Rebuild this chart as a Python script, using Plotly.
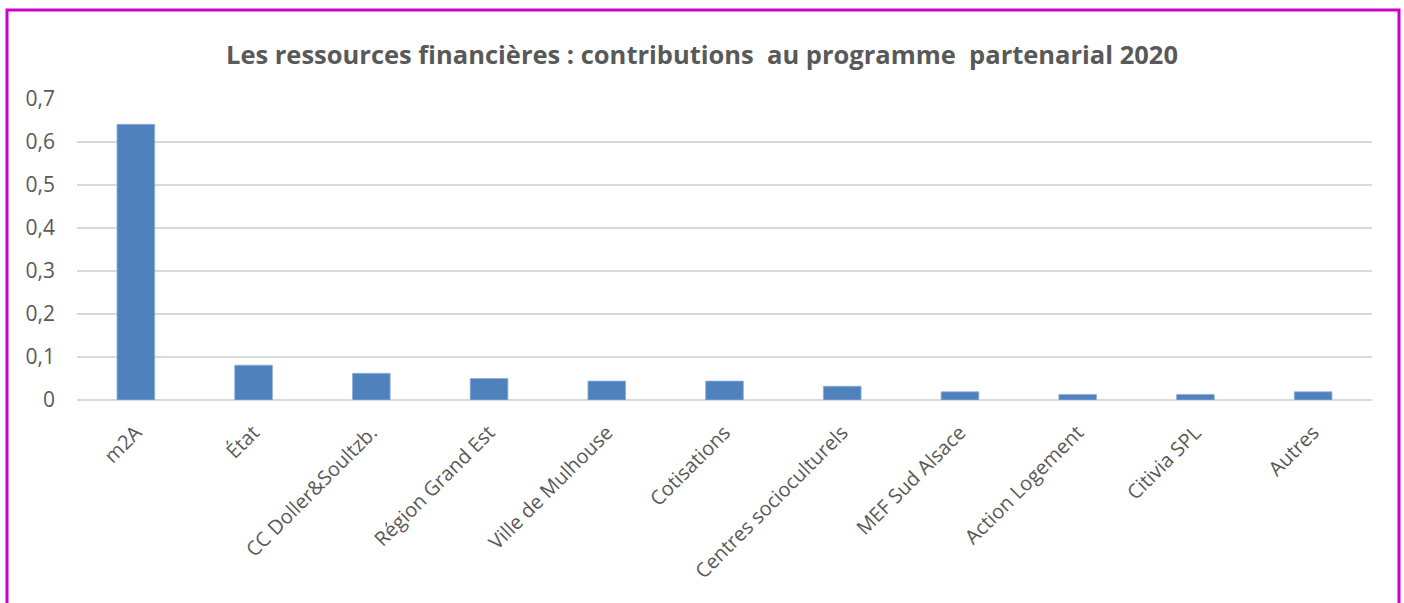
import plotly.graph_objects as go

categories = ["m2A", "État", "CC Doller&Soultzb.", "Région Grand Est", "Ville de Mulhouse",
              "Cotisations", "Centres socioculturels", "MEF Sud Alsace", "Action Logement",
              "Citivia SPL", "Autres"]
values = [0.641, 0.081, 0.062, 0.050, 0.044, 0.044, 0.032, 0.019, 0.013, 0.013, 0.019]
y_ticks = [0, 0.1, 0.2, 0.3, 0.4, 0.5, 0.6, 0.7]

fig = go.Figure(go.Bar(
    x=categories, y=values,
    marker=dict(color="#4F81BD", line=dict(color="#8FAEDB", width=0.8)),
))

W, H = 1404, 603
ml, mr, mt, mb = 77, 32, 99, 203
pw, ph = W - ml - mr, H - mt - mb

def px_x(x):
    return (x - ml) / pw

def px_y(y):
    return (H - mb - y) / ph

fig.update_layout(
    width=W, height=H,
    margin=dict(l=ml, r=mr, t=mt, b=mb),
    paper_bgcolor="white", plot_bgcolor="white",
    separators=", ",
    bargap=0.68,
    showlegend=False,
    title=dict(text="<b>Les ressources financières : contributions  au programme  partenarial 2020</b>",
               x=0.5, xanchor="center", y=1 - 55 / H, yanchor="middle",
               font=dict(family="Open Sans", size=25.5, color="#595959")),
    font=dict(family="Open Sans", color="#595959"),
    xaxis=dict(tickangle=-45, tickfont=dict(size=20, color="#595959"),
               showgrid=False, showline=False, ticks="",
               ticklabelstandoff=16),
    yaxis=dict(range=[0, 0.7], tickvals=y_ticks, tickformat=".1~f",
               tickfont=dict(size=21, color="#595959"),
               gridcolor="#D9D9D9", gridwidth=2, zeroline=True,
               zerolinecolor="#D9D9D9", zerolinewidth=2,
               ticklabelstandoff=21, showline=False, ticks=""),
    shapes=[dict(type="rect", xref="paper", yref="paper",
                 x0=px_x(7), x1=px_x(1399), y0=px_y(10), y1=px_y(620),
                 line=dict(color="#CC00CC", width=3), layer="below")],
)

fig.write_html("out.html")
